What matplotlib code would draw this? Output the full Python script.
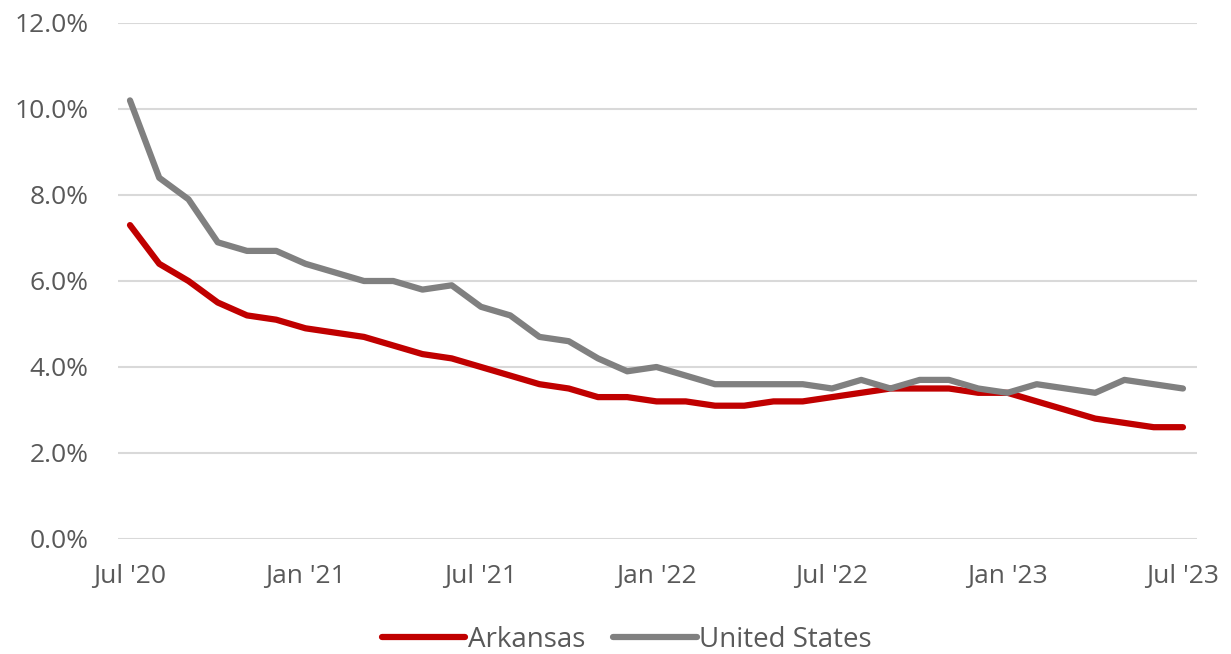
import matplotlib.pyplot as plt
from matplotlib.ticker import FuncFormatter

plt.rcParams['font.family'] = 'Open Sans'
plt.rcParams['font.size'] = 19

# monthly unemployment rate, Jul 2020 - Jul 2023
arkansas = [7.3, 6.4, 6.0, 5.5, 5.2, 5.1, 4.9, 4.8, 4.7, 4.5, 4.3, 4.2,
            4.0, 3.8, 3.6, 3.5, 3.3, 3.3, 3.2, 3.2, 3.1, 3.1, 3.2, 3.2,
            3.3, 3.4, 3.5, 3.5, 3.5, 3.4, 3.4, 3.2, 3.0, 2.8, 2.7, 2.6, 2.6]
united_states = [10.2, 8.4, 7.9, 6.9, 6.7, 6.7, 6.4, 6.2, 6.0, 6.0, 5.8, 5.9,
                 5.4, 5.2, 4.7, 4.6, 4.2, 3.9, 4.0, 3.8, 3.6, 3.6, 3.6, 3.6,
                 3.5, 3.7, 3.5, 3.7, 3.7, 3.5, 3.4, 3.6, 3.5, 3.4, 3.7, 3.6, 3.5]
tick_labels = ["Jul '20", "Jan '21", "Jul '21", "Jan '22", "Jul '22", "Jan '23", "Jul '23"]

months = list(range(len(arkansas)))

fig = plt.figure(figsize=(12.31, 6.54), dpi=100)
ax = fig.add_axes([118/1231, 1 - 539/654, (1197-118)/1231, (539-23)/654])

ax.plot(months, arkansas, color='#C00000', lw=4.5, label='Arkansas', solid_capstyle='round')
ax.plot(months, united_states, color='#808080', lw=4.5, label='United States', solid_capstyle='round')

ax.set_xlim(-0.41, 36.48)
ax.set_ylim(0, 12)
ax.set_yticks([0, 2, 4, 6, 8, 10, 12])
ax.yaxis.set_major_formatter(FuncFormatter(lambda v, p: f"{v:.1f}%"))
ax.set_xticks(months[::6])
ax.set_xticklabels(tick_labels)
ax.tick_params(length=0, colors='#595959', labelsize=19)
ax.tick_params(axis='x', pad=18)
ax.tick_params(axis='y', pad=21)
ax.grid(axis='y', color='#d9d9d9', lw=1.5)
ax.set_axisbelow(True)
for s in ax.spines.values():
    s.set_visible(False)

leg = fig.legend(loc='center', bbox_to_anchor=(627/1231, 1 - 640/654), ncol=2, frameon=False,
                 handlelength=3.0, columnspacing=1.0, handletextpad=0.1, fontsize=20)
for t in leg.get_texts():
    t.set_color('#595959')

fig.savefig('out.png')
